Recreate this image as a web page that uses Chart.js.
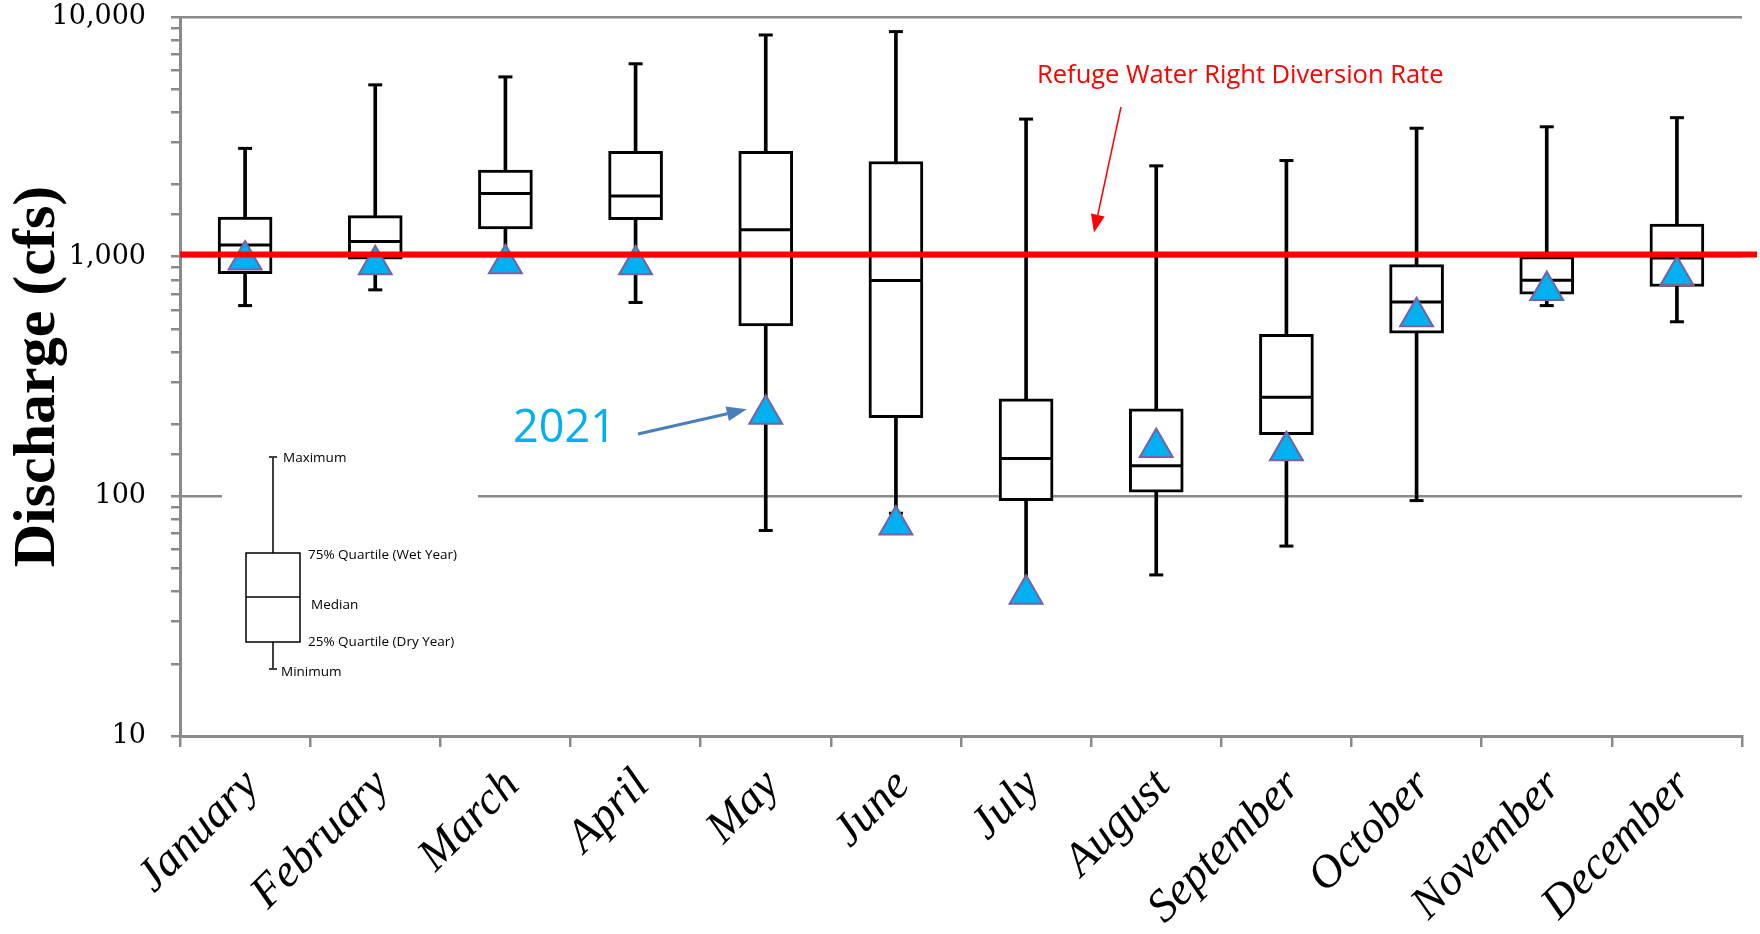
<!DOCTYPE html>
<html>
<head>
<meta charset="utf-8">
<script src="https://cdn.jsdelivr.net/npm/chart.js@4.4.1/dist/chart.umd.min.js"></script>
<style>
  html, body { margin: 0; padding: 0; background: #fff; }
  #wrap { width: 1760px; height: 934px; }
</style>
</head>
<body>
<div id="wrap"><canvas id="chart" width="1760" height="934"></canvas></div>
<script>
// ---------- Data (cfs) ----------
const months = ['January', 'February', 'March', 'April', 'May', 'June',
                'July', 'August', 'September', 'October', 'November', 'December'];
const maxVals    = [2830, 5210, 5625, 6380, 8414, 8690, 3750, 2393, 2518, 3435, 3483, 3802];
const q3Vals     = [1462, 1483, 2296, 2754, 2754, 2495,  255,  232,  474,  926, 1000, 1369];
const medianVals = [1119, 1156, 1833, 1791, 1295,  795,  144,  134,  259,  647,  798,  987];
const q1Vals     = [ 849,  977, 1306, 1428,  514,  213,   96,  104,  181,  479,  697,  751];
const minVals    = [ 625,  727,  990,  644,   72,   85,   42,   47,   62,   96,  625,  535];
const flow2021   = [ 968,  926,  935,  926,  220,   76,   39,  160,  155,  562,  723,  834];
const yMajorTicks = [10, 100, 1000, 10000];
const diversionRate = 1020;

const GRID = '#8a8a8a';

// floating bars need [low, high] pairs
const whiskerRanges = months.map((m, i) => [minVals[i], maxVals[i]]);
const boxRanges = months.map((m, i) => [q1Vals[i], q3Vals[i]]);

// ---------- helpers ----------
function arrow(ctx, x1, y1, x2, y2, color, width, headLen, headW) {
  const ang = Math.atan2(y2 - y1, x2 - x1);
  const bx = x2 - Math.cos(ang) * headLen;
  const by = y2 - Math.sin(ang) * headLen;
  ctx.strokeStyle = color;
  ctx.fillStyle = color;
  ctx.lineWidth = width;
  ctx.beginPath();
  ctx.moveTo(x1, y1);
  ctx.lineTo(bx, by);
  ctx.stroke();
  ctx.beginPath();
  ctx.moveTo(x2, y2);
  ctx.lineTo(bx + Math.sin(ang) * headW / 2, by - Math.cos(ang) * headW / 2);
  ctx.lineTo(bx - Math.sin(ang) * headW / 2, by + Math.cos(ang) * headW / 2);
  ctx.closePath();
  ctx.fill();
}

const annotations = {
  id: 'annotations',
  beforeDatasetsDraw(chart) {
    // white panel for the key, it hides the 100 gridline
    const ctx = chart.ctx;
    ctx.save();
    ctx.fillStyle = '#fff';
    ctx.fillRect(222, 440, 256, 250);
    ctx.restore();
  },
  afterDatasetsDraw(chart) {
    const { ctx, chartArea, scales: { x, y } } = chart;
    ctx.save();

    // refuge diversion rate line
    const yr = y.getPixelForValue(diversionRate);
    ctx.strokeStyle = '#ff0000';
    ctx.lineWidth = 6;
    ctx.beginPath();
    ctx.moveTo(chartArea.left, yr);
    ctx.lineTo(chartArea.right + 15, yr);
    ctx.stroke();

    ctx.fillStyle = '#ff0000';
    ctx.font = '25.5px "Open Sans"';
    ctx.textAlign = 'left';
    ctx.textBaseline = 'alphabetic';
    ctx.fillText('Refuge Water Right Diversion Rate', 1037, 83);
    arrow(ctx, 1121, 107, 1094, yr - 22, '#ff0000', 1.5, 18, 14);

    // 2021 label + arrow to May marker
    const mx = x.getPixelForValue(4);
    const my = y.getPixelForValue(flow2021[4]);
    ctx.fillStyle = '#00b0f0';
    ctx.font = '45px "Open Sans"';
    ctx.fillText('2021', 513, 442);
    arrow(ctx, 638, 434, mx - 19, my - 5, '#4a7ebb', 3, 20, 15);

    // key
    ctx.strokeStyle = '#404040';
    ctx.lineWidth = 2;
    ctx.beginPath();
    ctx.moveTo(273, 457); ctx.lineTo(273, 553);
    ctx.moveTo(269, 457); ctx.lineTo(277, 457);
    ctx.moveTo(273, 642); ctx.lineTo(273, 669);
    ctx.moveTo(269, 669); ctx.lineTo(277, 669);
    ctx.stroke();
    ctx.strokeStyle = '#000';
    ctx.lineWidth = 1.5;
    ctx.strokeRect(246, 553, 54, 89);
    ctx.beginPath();
    ctx.moveTo(246, 597); ctx.lineTo(300, 597);
    ctx.stroke();

    ctx.fillStyle = '#000';
    ctx.font = '13.5px "Open Sans"';
    ctx.textBaseline = 'middle';
    ctx.fillText('Maximum', 283, 458);
    ctx.fillText('75% Quartile (Wet Year)', 308, 555);
    ctx.fillText('Median', 311, 605);
    ctx.fillText('25% Quartile (Dry Year)', 308, 642);
    ctx.fillText('Minimum', 281, 672);
    ctx.restore();
  }
};

// ---------- Chart ----------
const ctx = document.getElementById('chart').getContext('2d');

new Chart(ctx, {
  type: 'bar',
  data: {
    labels: months,
    datasets: [
      {
        label: 'Whisker',
        data: whiskerRanges,
        backgroundColor: '#000',
        borderWidth: 0,
        barThickness: 3,
        grouped: false,
        order: 5
      },
      {
        label: 'Quartiles',
        data: boxRanges,
        backgroundColor: '#fff',
        borderColor: '#000',
        borderWidth: 3,
        borderSkipped: false,
        barThickness: 54,
        grouped: false,
        order: 4
      },
      {
        type: 'line',
        label: 'Median',
        data: medianVals,
        showLine: false,
        pointStyle: 'line',
        pointRadius: 26,
        pointBorderColor: '#000',
        pointBorderWidth: 3,
        order: 3
      },
      {
        type: 'line',
        label: 'Maximum',
        data: maxVals,
        showLine: false,
        pointStyle: 'line',
        pointRadius: 7,
        pointBorderColor: '#000',
        pointBorderWidth: 3,
        order: 3
      },
      {
        type: 'line',
        label: 'Minimum',
        data: minVals,
        showLine: false,
        pointStyle: 'line',
        pointRadius: 7,
        pointBorderColor: '#000',
        pointBorderWidth: 3,
        order: 3
      },
      {
        type: 'line',
        label: '2021',
        data: flow2021,
        showLine: false,
        pointStyle: 'triangle',
        pointRadius: 19,
        pointBackgroundColor: '#00b0f0',
        pointBorderColor: '#7d60a0',
        pointBorderWidth: 2,
        order: 1
      }
    ]
  },
  options: {
    responsive: false,
    animation: false,
    events: [],
    layout: { autoPadding: false, padding: { top: 17, right: 18, left: 0, bottom: 0 } },
    plugins: {
      legend: { display: false },
      tooltip: { enabled: false }
    },
    scales: {
      x: {
        offset: true,
        grid: {
          offset: true,
          drawOnChartArea: false,
          drawTicks: true,
          tickLength: 11,
          color: GRID,
          lineWidth: 2.5
        },
        border: { color: GRID, width: 3 },
        ticks: {
          autoSkip: false,
          minRotation: 45,
          maxRotation: 45,
          padding: 12,
          labelOffset: 7,
          color: '#000',
          font: { family: 'Liberation Serif', style: 'italic', size: 46 }
        },
        afterFit: (scale) => {
          scale.height = 198;
          scale.paddingLeft = 0;
          scale.paddingRight = 0;
        }
      },
      y: {
        type: 'logarithmic',
        min: 10,
        max: 10000,
        grid: {
          color: (c) => (c.tick && yMajorTicks.includes(c.tick.value)) ? GRID : 'rgba(0,0,0,0)',
          tickColor: GRID,
          lineWidth: 2.5,
          tickLength: 9
        },
        border: { color: GRID, width: 3 },
        ticks: {
          autoSkip: false,
          padding: 25,
          color: '#000',
          font: { family: 'DejaVu Serif', size: 27 },
          callback: (v) => yMajorTicks.includes(v) ? v.toLocaleString('en-US') : ''
        },
        title: {
          display: true,
          text: 'Discharge (cfs)',
          color: '#000',
          font: { family: 'Liberation Serif', size: 60, weight: 'bold' },
          padding: { top: 2, bottom: 0 }
        },
        afterFit: (scale) => {
          scale.width = 180;
          scale.paddingTop = 0;
          scale.paddingBottom = 0;
        }
      }
    }
  },
  plugins: [annotations]
});
</script>
</body>
</html>
